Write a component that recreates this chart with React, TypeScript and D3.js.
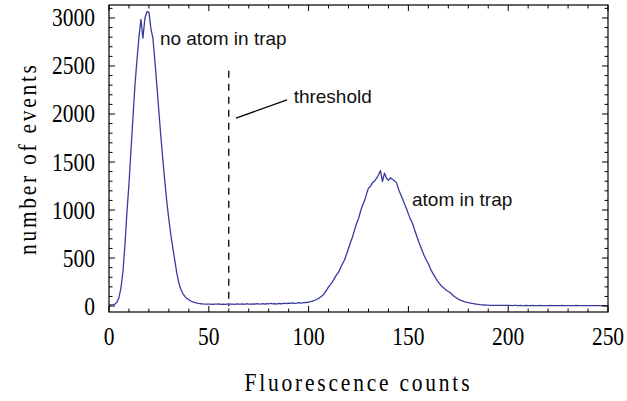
import {default as React, useEffect, useRef} from "react";
import * as d3 from "d3";

// histogram counts, one bin per fluorescence count 0..250
const counts: number[] = [
    // 0-9
    12, 12, 14, 20, 40, 90, 190, 360, 640, 980,
    // 10-19
    1270, 1620, 1960, 2300, 2560, 2800, 2985, 2790, 3000, 3065,
    // 20-29
    3060, 2890, 2790, 2550, 2290, 2020, 1760, 1520, 1290, 1080,
    // 30-39
    900, 740, 600, 470, 340, 240, 175, 130, 100, 80,
    // 40-49
    65, 52, 44, 37, 31, 27, 24, 22, 21, 20,
    // 50-59
    19, 21, 18, 20, 19, 22, 18, 21, 17, 20,
    // 60-69
    22, 19, 21, 18, 23, 20, 19, 22, 18, 24,
    // 70-79
    21, 19, 23, 20, 25, 22, 21, 26, 20, 24,
    // 80-89
    23, 27, 22, 25, 21, 28, 24, 26, 30, 25,
    // 90-99
    29, 27, 32, 28, 31, 35, 30, 34, 38, 36,
    // 100-109
    42, 45, 52, 58, 68, 80, 95, 110, 135, 165,
    // 110-119
    200, 225, 255, 290, 325, 350, 400, 440, 480, 540,
    // 120-129
    600, 665, 720, 790, 860, 910, 985, 1050, 1095, 1165,
    // 130-139
    1230, 1245, 1285, 1300, 1330, 1365, 1410, 1295, 1385, 1330,
    // 140-149
    1310, 1335, 1320, 1305, 1285, 1220, 1170, 1120, 1065, 1015,
    // 150-159
    960, 905, 865, 800, 740, 680, 625, 570, 520, 480,
    // 160-169
    440, 390, 350, 315, 280, 250, 222, 200, 182, 165,
    // 170-179
    152, 138, 118, 100, 86, 72, 62, 53, 46, 40,
    // 180-189
    35, 31, 27, 24, 20, 17, 14, 12, 11, 10,
    // 190-199
    9, 8, 8, 7, 7, 7, 6, 6, 6, 6,
    // 200-209
    6, 6, 5, 6, 6, 5, 6, 5, 5, 6,
    // 210-219
    5, 5, 6, 5, 5, 5, 6, 5, 5, 5,
    // 220-229
    5, 6, 5, 5, 5, 5, 5, 6, 5, 5,
    // 230-239
    5, 5, 5, 5, 6, 5, 5, 5, 5, 5,
    // 240-250
    5, 5, 5, 5, 5, 5, 5, 5, 5, 5, 5
];

const xTicks = [0, 50, 100, 150, 200, 250];
const yTicks = [0, 500, 1000, 1500, 2000, 2500, 3000];

const threshold = 60;
const thresholdTop = 2450;

const labels = [
    {text: "no atom in trap", x: 25.5, y: 2720},
    {text: "threshold", x: 92.5, y: 2110},
    {text: "atom in trap", x: 151.8, y: 1045}
];
const leader: [number, number][] = [[63.6, 1958], [89.2, 2146]];

const width = 627;
const height = 401;
const lineColor = "#3a3a9e";

// Mathematica-style tall, narrow Times digits
const serif = "'Liberation Serif', 'Times New Roman', serif";
const serifSize = 25;
const squeeze = 0.86;

export default function App() {
    const ref = useRef<SVGSVGElement>(null);

    useEffect(() => {
        draw();
    }, []);

    function draw() {
        const svg = d3.select(ref.current);
        svg.selectAll("*").remove();

        const x = d3.scaleLinear().domain([0, 250]).range([109, 608]);
        const y = d3.scaleLinear().domain([-62, 3135]).range([312, 5]);
        const [x0, x1] = x.range();
        const [y0, y1] = y.range();

        // plot line
        svg.append("path")
            .datum(counts)
            .attr("fill", "none")
            .attr("stroke", lineColor)
            .attr("stroke-width", 1.3)
            .attr("stroke-linejoin", "round")
            .attr("d", d3.line<number>()
                .x((d, i) => x(i))
                .y(d => y(d))
            );

        // threshold line
        svg.append("line")
            .attr("x1", x(threshold)).attr("x2", x(threshold))
            .attr("y1", y(thresholdTop)).attr("y2", y(0))
            .attr("stroke", "black")
            .attr("stroke-width", 1.3)
            .attr("stroke-dasharray", "7,6");

        svg.append("line")
            .attr("x1", x(leader[0][0])).attr("y1", y(leader[0][1]))
            .attr("x2", x(leader[1][0])).attr("y2", y(leader[1][1]))
            .attr("stroke", "black")
            .attr("stroke-width", 1.3);

        svg.selectAll("text.note")
            .data(labels)
            .join("text")
            .attr("class", "note")
            .attr("x", d => x(d.x))
            .attr("y", d => y(d.y))
            .attr("font-family", "'Liberation Sans', Arial, sans-serif")
            .attr("font-size", 19)
            .attr("fill", "#111")
            .text(d => d.text);

        // frame
        svg.append("rect")
            .attr("x", x0).attr("y", y1)
            .attr("width", x1 - x0).attr("height", y0 - y1)
            .attr("fill", "none")
            .attr("stroke", "black")
            .attr("stroke-width", 1.2);

        const ticks = svg.append("g").attr("stroke", "black").attr("stroke-width", 1);
        d3.range(0, 251, 10).forEach(v => {
            const len = v % 50 === 0 ? 6 : 3.5;
            ticks.append("line").attr("x1", x(v)).attr("x2", x(v)).attr("y1", y0).attr("y2", y0 - len);
            ticks.append("line").attr("x1", x(v)).attr("x2", x(v)).attr("y1", y1).attr("y2", y1 + len);
        });
        d3.range(0, 3101, 100).forEach(v => {
            const len = v % 500 === 0 ? 6 : 3.5;
            ticks.append("line").attr("x1", x0).attr("x2", x0 + len).attr("y1", y(v)).attr("y2", y(v));
            ticks.append("line").attr("x1", x1).attr("x2", x1 - len).attr("y1", y(v)).attr("y2", y(v));
        });

        svg.append("g")
            .selectAll("text")
            .data(xTicks)
            .join("text")
            .attr("transform", d => `translate(${x(d)},345) scale(${squeeze},1)`)
            .attr("text-anchor", "middle")
            .attr("font-family", serif)
            .attr("font-size", serifSize)
            .text(d => d);

        svg.append("g")
            .selectAll("text")
            .data(yTicks)
            .join("text")
            .attr("transform", d => `translate(95,${y(d) + 8.5}) scale(${squeeze},1)`)
            .attr("text-anchor", "end")
            .attr("font-family", serif)
            .attr("font-size", serifSize)
            .text(d => d);

        svg.append("text")
            .attr("transform", `translate(357,391) scale(${squeeze},1)`)
            .attr("text-anchor", "middle")
            .attr("font-family", serif)
            .attr("font-size", serifSize)
            .attr("textLength", 225 / squeeze)
            .attr("lengthAdjust", "spacing")
            .text("Fluorescence counts");

        svg.append("text")
            .attr("transform", `translate(36,160) rotate(-90) scale(${squeeze},1)`)
            .attr("text-anchor", "middle")
            .attr("font-family", serif)
            .attr("font-size", serifSize)
            .attr("textLength", 190 / squeeze)
            .attr("lengthAdjust", "spacing")
            .text("number of events");
    }

    return (
        <svg
            width={width}
            height={height}
            style={{position: "absolute", left: 0, top: 0, backgroundColor: "white"}}
            ref={ref}
        />
    );
}
